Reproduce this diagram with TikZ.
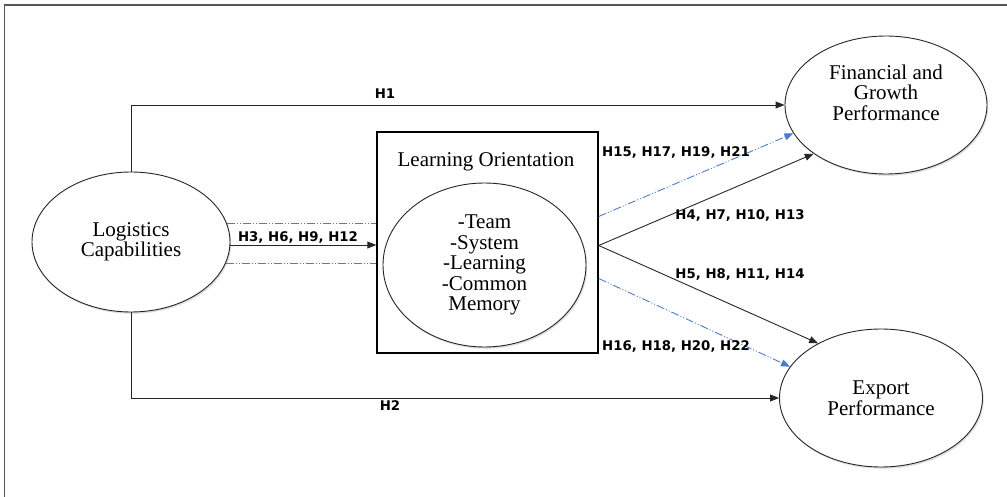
\documentclass[tikz,border=0pt]{standalone}
\usepackage{fontspec}
\setmainfont{Liberation Serif}
\newfontfamily\lblfont{DejaVu Sans}
\usetikzlibrary{shapes.geometric,arrows.meta,shadows}
\definecolor{hypblue}{RGB}{78,122,204}
\definecolor{framegray}{RGB}{85,85,85}
\tikzset{
  construct/.style={ellipse, draw=black!85, line width=0.9pt, fill=white,
    inner sep=0pt, align=center, font=\fontsize{21}{20.5}\selectfont,
    drop shadow={opacity=0.25, shadow xshift=1.2pt, shadow yshift=-1.8pt}},
  lobox/.style={rectangle, draw=black, line width=1.4pt, inner sep=0pt},
  hyp/.style={font=\lblfont\fontsize{13.3}{16}\selectfont\bfseries, inner sep=1pt},
  path/.style={draw=black!85, line width=0.9pt,
    -{Triangle[length=9pt,width=7pt]}},
  medpath/.style={draw=hypblue, line width=0.9pt,
    dash pattern=on 8pt off 2pt on 1pt off 2pt on 1pt off 2pt},
  medarrow/.style={medpath, -{Triangle[length=9pt,width=7pt]}},
}
\begin{document}
\begin{tikzpicture}[x=1pt,y=-1pt]
\useasboundingbox (0,0) rectangle (1007,497);
% page frame
\draw[framegray, line width=1.4pt] (4.5,497) -- (4.5,5) -- (1007,5);

% constructs
\node[construct, minimum width=198pt, minimum height=140pt] (lc) at (131,242)
  {Logistics\\Capabilities};
\node[construct, minimum width=202pt, minimum height=138pt] (fin) at (886,105)
  {Financial and\\Growth\\Performance\\[5pt]};
\node[construct, minimum width=203pt, minimum height=138pt] (exp) at (881,398)
  {Export\\Performance};

% learning orientation block
\node[lobox, minimum width=221pt, minimum height=221pt] (lo) at (487.5,242.5) {};
\node[font=\fontsize{21}{20}\selectfont] (lotitle) at (486,162) {Learning Orientation};
\node[construct, minimum width=203pt, minimum height=164pt] (loin) at (484.5,265)
  {-Team\\-System\\-Learning\\-Common\\Memory};

% direct effects
\draw[path] (lc.north) |- (fin.west);
\draw[path] (lc.south) |- (exp.west);

% logistics -> learning orientation
\coordinate (lcout) at ([yshift=-3pt]lc.east);
\draw[path] (lcout) -- (lcout -| lo.west);
\draw[medpath] (lc.11) -- (lc.11 -| lo.west);
\draw[medpath] (lc.-13) -- (lc.-13 -| lo.west);

% learning orientation -> outcomes
\coordinate (loout) at ([yshift=-3pt]lo.east);
\coordinate (lohi) at ([yshift=26pt]lo.east);
\coordinate (lolo) at ([yshift=-36pt]lo.east);
\draw[path] (loout) -- (fin.214);
\draw[path] (loout) -- (exp.139);
\draw[medarrow] (lohi) -- (fin.197);
\draw[medarrow] (lolo) -- (exp.161);

% hypothesis labels
\node[hyp] (h1) at (385,94) {H1};
\node[hyp] (h2) at (390,406) {H2};
\node[hyp] (h3) at (298,238) {H3, H6, H9, H12};
\node[hyp] (h15) at (676,153) {H15, H17, H19, H21};
\node[hyp] (h4) at (740,216) {H4, H7, H10, H13};
\node[hyp] (h5) at (740,275) {H5, H8, H11, H14};
\node[hyp] (h16) at (676,347) {H16, H18, H20, H22};
\end{tikzpicture}
\end{document}
